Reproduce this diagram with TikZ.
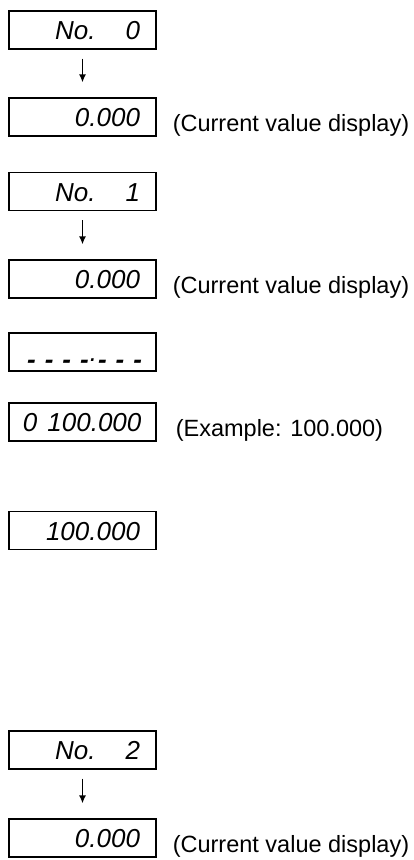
\documentclass[tikz,border=0pt]{standalone}
\usepackage{fontspec}
\setmainfont{Liberation Sans}
\newfontfamily\lcdfont{Liberation Sans}
\usetikzlibrary{arrows.meta,positioning}

\newcommand\lcddash{\raisebox{-0.28em}{\bfseries -}}

\tikzset{
  lcd/.style={draw, line width=1.2pt, minimum width=147pt, minimum height=38pt,
    inner xsep=14pt, inner ysep=0pt, text width=119pt, align=right,
    text height=19pt, text depth=0pt,
    font=\lcdfont\itshape\fontsize{26}{26}\selectfont},
  note/.style={anchor=base west, inner sep=0pt, font=\fontsize{23.5}{28}\selectfont},
  flow/.style={-{Latex[length=8pt,width=7pt]}, line width=1.5pt,
    shorten <=9pt, shorten >=15pt}
}

\begin{document}
\begin{tikzpicture}[x=1pt, y=-1pt]
  \useasboundingbox (0,0) rectangle (414,860);

  % --- No. 0 ---
  \node[lcd] (b1) at (82.5,30) {No.\hspace{30pt}0\kern2pt};
  \node[lcd] (b2) at (82.5,117) {0.000\kern2pt};
  \draw[flow] (b1) -- (b2);
  \node[note] (c1) at ([xshift=16pt,yshift=5pt]b2.south east) {(Current value display)};

  % --- No. 1 ---
  \node[lcd] (b3) at (82.5,191.5) {No.\hspace{30pt}1\kern2pt};
  \node[lcd] (b4) at (82.5,279) {0.000\kern2pt};
  \draw[flow] (b3) -- (b4);
  \node[note] (c2) at ([xshift=16pt,yshift=5pt]b4.south east) {(Current value display)};

  % --- inserimento valore ---
  \node[lcd] (b5) at (82.5,352) {\mbox{\lcddash\kern9pt\lcddash\kern9pt\lcddash\kern9pt\lcddash\kern1pt.\kern1pt\lcddash\kern9pt\lcddash\kern9pt\lcddash}};
  \node[lcd] (b6) at (82.5,422) {\mbox{0\kern10pt 100.000\kern2pt}};
  \node[note] (c3) at ([xshift=19pt,yshift=5pt]b6.south east) {(Example: 100.000)};
  \node[lcd] (b7) at (82.5,530.5) {100.000\kern2pt};

  % --- No. 2 ---
  \node[lcd] (b8) at (82.5,750) {No.\hspace{30pt}2\kern2pt};
  \node[lcd] (b9) at (82.5,838) {0.000\kern2pt};
  \draw[flow] (b8) -- (b9);
  \node[note] (c4) at ([xshift=16pt,yshift=5pt]b9.south east) {(Current value display)};

\end{tikzpicture}
\end{document}
